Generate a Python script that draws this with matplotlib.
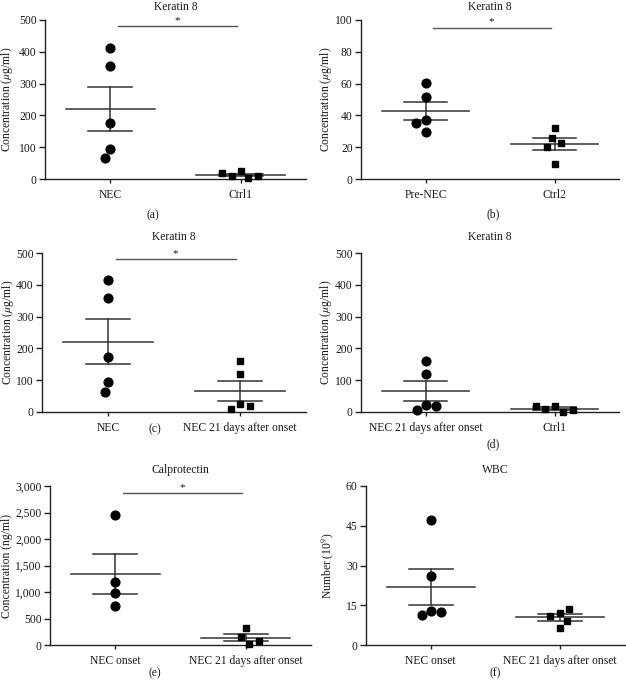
import numpy as np
import matplotlib
matplotlib.use("Agg")
import matplotlib.pyplot as plt
from matplotlib.ticker import FuncFormatter

plt.rcParams["font.family"] = ["Liberation Serif", "DejaVu Serif"]
plt.rcParams["mathtext.fontset"] = "stix"
plt.rcParams["font.size"] = 8.4

# ---- data ----
a_groups = ["NEC", "Ctrl1"]
a_nec = [412, 355, 175, 93, 65]
a_ctrl1 = [24, 9, 2, 10, 18]

b_groups = ["Pre-NEC", "Ctrl2"]
b_prenec = [60.1, 51.7, 37.4, 35.5, 29.4]
b_ctrl2 = [32.1, 26.0, 22.5, 20.4, 9.5]

c_groups = ["NEC", "NEC 21 days after onset"]
c_nec = [416, 360, 174, 93, 63]
c_nec21 = [161, 120, 24, 9.5, 20]

d_groups = ["NEC 21 days after onset", "Ctrl1"]
d_nec21 = [161, 120.5, 23, 7, 18]
d_ctrl1 = [20, 9, 1, 6, 19]

e_groups = ["NEC onset", "NEC 21 days after onset"]
e_onset = [2448, 1192, 985, 734]
e_nec21 = [314, 144, 19, 75]

f_groups = ["NEC onset", "NEC 21 days after onset"]
f_onset = [47.2, 26.0, 13.0, 11.3, 12.4]
f_nec21 = [11.9, 10.9, 13.7, 9.2, 6.4]

k8_ticks = [0, 100, 200, 300, 400, 500]
b_ticks = [0, 20, 40, 60, 80, 100]
e_ticks = [0, 500, 1000, 1500, 2000, 2500, 3000]
f_ticks = [0, 15, 30, 45, 60]

conc_ug = r"Concentration ($\mu$g/ml)"
conc_ng = "Concentration (ng/ml)"
wbc_label = r"Number (10$^9$)"

W, H, DPI = 626, 687, 100
INK = "#1a1a1a"
LINE = "#333333"


def swarm_offsets(vals, ppy, diam=10.0):
    # simple beeswarm in pixel space, returns x offsets in pixels
    placed = []
    offs = []
    cands = sorted(np.arange(-40, 40.25, 0.5), key=lambda c: (abs(c), c))
    for v in vals:
        y = v * ppy
        for c in cands:
            if all((c - px) ** 2 + (y - py) ** 2 >= diam ** 2 for px, py in placed):
                break
        placed.append((c, y))
        offs.append(c)
    return np.array(offs)


def draw_panel(fig, rect, groups, series, yticks, title, ylabel, ylab_x,
               label, label_xy, sig_y=None, yfmt=None, title_off=11.5):
    left, right, top, bottom = rect
    wpx, hpx = right - left, bottom - top
    ax = fig.add_axes([left / W, 1 - bottom / H, wpx / W, hpx / H])
    ymax = yticks[-1]
    ax.set_xlim(-0.5, 1.5)
    ax.set_ylim(0, ymax)
    ppx = wpx / 2.0
    ppy = hpx / ymax

    for i, vals in enumerate(series):
        vals = np.asarray(vals, dtype=float)
        m = vals.mean()
        s = vals.std(ddof=1) / np.sqrt(len(vals))
        ax.plot([i - 0.34, i + 0.34], [m, m], color=LINE, lw=1.1, zorder=2)
        for yy in (m - s, m + s):
            ax.plot([i - 0.17, i + 0.17], [yy, yy], color=LINE, lw=1.1, zorder=2)
        ax.plot([i, i], [m - s, m + s], color=LINE, lw=1.1, zorder=2)
        offs = swarm_offsets(vals, ppy) / ppx
        mk, ms = ("o", 6.3) if i == 0 else ("s", 5.0)
        ax.plot(i + offs, vals, ls="none", marker=mk, ms=ms, color="black",
                mec="black", clip_on=False, zorder=3)

    if sig_y is not None:
        ax.plot([0.06, 0.97], [sig_y, sig_y], color="#555555", lw=1.0)
        ax.annotate("*", xy=(0.51, sig_y), xytext=(0, 1), textcoords="offset points",
                    ha="center", va="bottom", fontsize=8, color=INK)

    ax.set_xticks([0, 1])
    ax.set_xticklabels(groups)
    ax.set_yticks(yticks)
    if yfmt:
        ax.yaxis.set_major_formatter(FuncFormatter(yfmt))
    for sp in ("top", "right"):
        ax.spines[sp].set_visible(False)
    for sp in ("left", "bottom"):
        ax.spines[sp].set_color("#222222")
        ax.spines[sp].set_linewidth(1.0)
    ax.tick_params(axis="y", length=4, width=1.0, pad=2, colors="#222222", labelcolor=INK)
    ax.tick_params(axis="x", length=3, width=1.0, pad=4, colors="#222222", labelcolor=INK)

    ax.annotate(title, xy=(0.5, 1), xycoords="axes fraction", xytext=(0, title_off),
                textcoords="offset points", ha="center", va="center", color=INK)
    fig.text(ylab_x / W, 1 - (top + bottom) / 2 / H, ylabel, rotation=90,
             ha="center", va="center", color=INK)
    fig.text(label_xy[0] / W, 1 - label_xy[1] / H, label, ha="center", va="center", color=INK)
    return ax


fig = plt.figure(figsize=(W / DPI, H / DPI), dpi=DPI)
fig.patch.set_facecolor("white")

draw_panel(fig, (45, 306, 20, 179), a_groups, [a_nec, a_ctrl1], k8_ticks,
           "Keratin 8", conc_ug, 7, "(a)", (153, 215), sig_y=481, title_off=9.2)
draw_panel(fig, (361, 619, 20, 179), b_groups, [b_prenec, b_ctrl2], b_ticks,
           "Keratin 8", conc_ug, 326, "(b)", (493, 214), sig_y=95, title_off=9.2)
draw_panel(fig, (42, 306, 253, 412), c_groups, [c_nec, c_nec21], k8_ticks,
           "Keratin 8", conc_ug, 8, "(c)", (155, 429), sig_y=481)
draw_panel(fig, (361, 619, 253, 412), d_groups, [d_nec21, d_ctrl1], k8_ticks,
           "Keratin 8", conc_ug, 326, "(d)", (493, 444))
draw_panel(fig, (50, 311, 486, 645), e_groups, [e_onset, e_nec21], e_ticks,
           "Calprotectin", conc_ng, 7, "(e)", (155, 673), sig_y=2862,
           yfmt=lambda v, p: "{:,.0f}".format(v))
draw_panel(fig, (366, 625, 486, 645), f_groups, [f_onset, f_nec21], f_ticks,
           "WBC", wbc_label, 328, "(f)", (495, 673))

fig.savefig("out.png", dpi=DPI, facecolor="white")
